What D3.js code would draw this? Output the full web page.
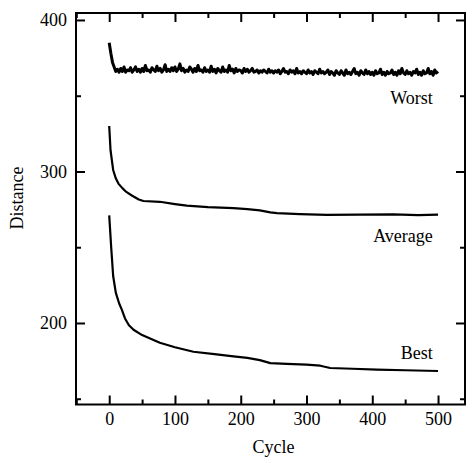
<!DOCTYPE html>
<html>
<head>
<meta charset="utf-8">
<script src="https://cdn.jsdelivr.net/npm/d3@7"></script>
<style>
  body { margin: 0; background: #fff; }
  svg { display: block; font-family: "Liberation Serif", "DejaVu Serif", serif; }
</style>
</head>
<body>
<svg width="466" height="459"></svg>
<script>
// values
// worst sampled every 2.5 cycles, 0..500
var worstCycle = d3.range(0, 500.1, 2.5);
var worstDist = [
  385,378,372,369,366,367.5,365.5,368,366,369,365.5,367,366.5,368.5,365.5,367,369,366,367.5,365.5,
  368,366,370,366.5,367,365.5,368.5,367,366,369.5,366.5,368,365.5,367,370.5,366,367.5,366,368.5,366.5,
  369,366,367.5,371,366.5,368,365.5,367,366,369,367.5,365.5,368,366,370,366.5,367,365.5,368.5,366,
  367,365.5,369.5,366,367.5,365,368,366.5,365.5,369,366,367,365.5,370,366.5,367.5,365,368,366,367,
  366.5,365,368,366,367.5,365.5,366.5,368,365.5,366,367,365,366.5,365.5,367,366,365,367.5,365.5,366.5,
  365,366.5,365.5,367,364.5,366,368,365.5,366,364.5,367,365.5,366.5,364.5,368,365,366,364.5,366.5,365.5,
  364.5,367,365,366,364,366.5,365.5,364.5,367.5,365,366,364.5,365.5,367,364,366,365,363.5,366.5,365,
  364,366.5,365,363.5,367,364.5,365.5,364,366,368,364.5,365.5,363.5,366.5,365,364,367,364.5,366,364,
  365.5,363.5,366.5,364.5,365,367.5,364,365.5,363.5,366,364.5,365,367,364,365.5,363.5,366.5,364.5,368,365,
  364,366.5,364.5,365.5,363.5,366,365,367.5,364,365.5,363.5,366.5,364.5,365,368,364.5,366,363.5,367,365,
  366];

var avgCycle = [0,2,6,10,14,20,26,35,45,52,77,100,118,150,189,210,229,245,255,290,331,380,432,470,500];
var avgDist  = [330,314,301,295.5,292,289,286.5,284,281.5,280.5,280,278.5,277.5,276.5,275.8,275.2,274.3,273,272.5,271.8,271.3,271.5,271.7,271.2,271.5];

var bestCycle = [0,3,6,10,15,19,24,30,37,50,77,100,128,160,189,210,229,245,270,300,321,336,370,407,450,500];
var bestDist  = [271,250,231,220,213,209,203,198.5,195.5,192,187,184,181,179.5,178,177,175.5,173.5,173,172.5,171.8,170.3,169.8,169.2,168.8,168.3];

var xMajor = [0,100,200,300,400,500];
var xMinor = [-50,50,150,250,350,450];
var yMajor = [200,300,400];
var yMinor = [150,250,350];

var seriesLabels = ["Worst","Average","Best"];
var labelValues = [344.6,253.5,176.2];

drawChart();

function drawChart() {
  var svg = d3.select("svg");
  var pLeft = 76, pRight = 465, pTop = 13, pBottom = 404.5;

  var x = d3.scaleLinear().domain([-50.5, 541]).range([pLeft, pRight]);
  var y = d3.scaleLinear().domain([146.2, 404.6]).range([pBottom, pTop]);

  // ticks, all pointing inward
  function noText() { return ""; }
  svg.append("g").attr("transform", "translate(0," + pBottom + ")")
    .call(d3.axisBottom(x).tickValues(xMajor).tickSizeInner(-9).tickSizeOuter(0).tickPadding(8));
  svg.append("g").attr("transform", "translate(0," + pBottom + ")")
    .call(d3.axisBottom(x).tickValues(xMinor).tickSizeInner(-5).tickSizeOuter(0).tickFormat(noText));
  svg.append("g").attr("transform", "translate(0," + pTop + ")")
    .call(d3.axisTop(x).tickValues(xMajor).tickSizeInner(-9).tickSizeOuter(0).tickFormat(noText));
  svg.append("g").attr("transform", "translate(0," + pTop + ")")
    .call(d3.axisTop(x).tickValues(xMinor).tickSizeInner(-5).tickSizeOuter(0).tickFormat(noText));
  svg.append("g").attr("transform", "translate(" + pLeft + ",0)")
    .call(d3.axisLeft(y).tickValues(yMajor).tickSizeInner(-9).tickSizeOuter(0).tickPadding(9));
  svg.append("g").attr("transform", "translate(" + pLeft + ",0)")
    .call(d3.axisLeft(y).tickValues(yMinor).tickSizeInner(-5).tickSizeOuter(0).tickFormat(noText));
  svg.append("g").attr("transform", "translate(" + pRight + ",0)")
    .call(d3.axisRight(y).tickValues(yMajor).tickSizeInner(-9).tickSizeOuter(0).tickFormat(noText));
  svg.append("g").attr("transform", "translate(" + pRight + ",0)")
    .call(d3.axisRight(y).tickValues(yMinor).tickSizeInner(-5).tickSizeOuter(0).tickFormat(noText));

  svg.selectAll(".domain").remove();
  svg.selectAll(".tick line").attr("stroke", "#000").attr("stroke-width", 2);
  svg.selectAll(".tick text")
    .attr("fill", "#000")
    .style("font-family", "Liberation Serif, serif")
    .style("font-size", "18px");

  // frame
  svg.append("rect")
    .attr("x", pLeft).attr("y", pTop)
    .attr("width", pRight - pLeft).attr("height", pBottom - pTop)
    .attr("fill", "none").attr("stroke", "#000").attr("stroke-width", 2);

  var line = d3.line()
    .x(function(d) { return x(d[0]); })
    .y(function(d) { return y(d[1]); });

  var worst = d3.zip(worstCycle, worstDist);
  var avg = d3.zip(avgCycle, avgDist);
  var best = d3.zip(bestCycle, bestDist);

  svg.append("path").datum(worst).attr("d", line)
    .attr("fill", "none").attr("stroke", "#000").attr("stroke-width", 3).attr("stroke-linejoin", "round");
  svg.append("path").datum(avg).attr("d", line)
    .attr("fill", "none").attr("stroke", "#000").attr("stroke-width", 2.2).attr("stroke-linejoin", "round");
  svg.append("path").datum(best).attr("d", line)
    .attr("fill", "none").attr("stroke", "#000").attr("stroke-width", 2.2).attr("stroke-linejoin", "round");

  // series labels
  svg.selectAll(".serlab")
    .data(seriesLabels)
    .enter().append("text")
    .attr("class", "serlab")
    .attr("x", x(492))
    .attr("y", function(d, i) { return y(labelValues[i]); })
    .attr("text-anchor", "end")
    .style("font-size", "18px")
    .text(function(d) { return d; });

  // axis titles
  svg.append("text")
    .attr("x", x(250)).attr("y", 453)
    .attr("text-anchor", "middle")
    .style("font-size", "18px")
    .text("Cycle");

  svg.append("text")
    .attr("transform", "translate(23,198) rotate(-90)")
    .attr("text-anchor", "middle")
    .style("font-size", "18px")
    .text("Distance");
}
</script>
</body>
</html>
